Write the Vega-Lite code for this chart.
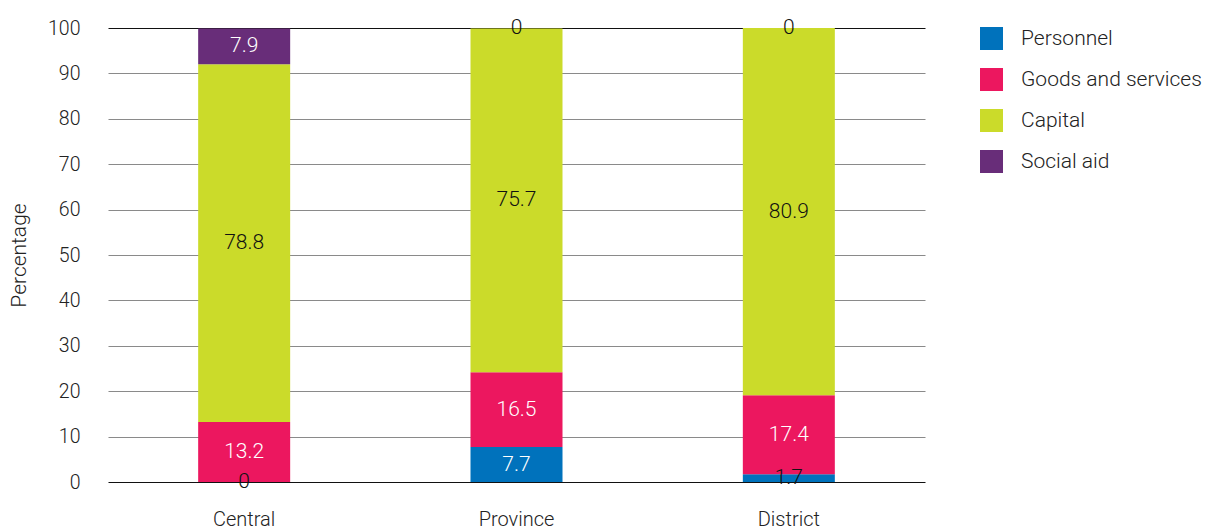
{
  "$schema": "https://vega.github.io/schema/vega-lite/v6.json",
  "width": 817,
  "height": 454,
  "autosize": {"type": "none"},
  "padding": {"left": 108, "top": 28, "right": 284, "bottom": 47},
  "config": {
    "font": "Roboto",
    "view": {"stroke": null},
    "axis": {"labelFont": "Roboto", "titleFont": "Roboto", "labelColor": "#222", "titleColor": "#222", "labelFontWeight": 300, "titleFontWeight": 300},
    "legend": {"labelFontWeight": 300}
  },
  "data": {
    "values": [
      {"level": "Central", "type": "Personnel", "k": 1, "value": 0},
      {"level": "Central", "type": "Goods and services", "k": 2, "value": 13.2},
      {"level": "Central", "type": "Capital", "k": 3, "value": 78.8},
      {"level": "Central", "type": "Social aid", "k": 4, "value": 7.9},
      {"level": "Province", "type": "Personnel", "k": 1, "value": 7.7},
      {"level": "Province", "type": "Goods and services", "k": 2, "value": 16.5},
      {"level": "Province", "type": "Capital", "k": 3, "value": 75.7},
      {"level": "Province", "type": "Social aid", "k": 4, "value": 0},
      {"level": "District", "type": "Personnel", "k": 1, "value": 1.7},
      {"level": "District", "type": "Goods and services", "k": 2, "value": 17.4},
      {"level": "District", "type": "Capital", "k": 3, "value": 80.9},
      {"level": "District", "type": "Social aid", "k": 4, "value": 0}
    ]
  },
  "transform": [
    {"stack": "value", "groupby": ["level"], "sort": [{"field": "k", "order": "ascending"}], "as": ["y0", "y1"]},
    {"calculate": "(datum.y0 + datum.y1) / 2", "as": "ymid"}
  ],
  "encoding": {
    "x": {
      "field": "level", "type": "nominal", "sort": ["Central", "Province", "District"],
      "scale": {"paddingInner": 0, "paddingOuter": 0},
      "axis": {"title": null, "labelAngle": 0, "domain": false, "ticks": false, "labelPadding": 27, "labelFontSize": 20, "grid": false}
    }
  },
  "layer": [
    {
      "mark": {"type": "bar", "size": 92},
      "encoding": {
        "y": {
          "field": "y0", "type": "quantitative", "scale": {"domain": [0, 100], "nice": false},
          "axis": {
            "title": "Percentage", "titleFontSize": 21, "titlePadding": 18,
            "values": [0, 10, 20, 30, 40, 50, 60, 70, 80, 90, 100],
            "domain": false, "ticks": false, "labelPadding": 28, "labelFontSize": 19.5,
            "grid": true,
            "gridColor": {"condition": {"test": "datum.value == 0 || datum.value == 100", "value": "#111"}, "value": "#8a8a8a"},
            "gridWidth": 1.2, "gridOpacity": 1
          }
        },
        "y2": {"field": "y1"},
        "color": {
          "field": "type", "type": "nominal",
          "scale": {"domain": ["Personnel", "Goods and services", "Capital", "Social aid"], "range": ["#0072bc", "#ec175f", "#cbdb2a", "#682d79"]},
          "legend": {
            "title": null, "orient": "none", "legendX": 872, "legendY": -1,
            "symbolType": "square", "symbolSize": 529, "symbolStrokeWidth": 0, "symbolOpacity": 1,
            "labelFontSize": 21, "labelColor": "#222", "labelOffset": 18, "rowPadding": 18, "labelLimit": 300
          }
        }
      }
    },
    {
      "mark": {"type": "text", "fontSize": 21, "fontWeight": 300, "baseline": "middle", "align": "center"},
      "encoding": {
        "y": {"field": "ymid", "type": "quantitative"},
        "text": {"field": "value", "type": "quantitative"},
        "color": {
          "condition": {"test": "datum.value < 5 || datum.type == 'Capital'", "value": "#111"},
          "value": "white"
        }
      }
    }
  ]
}
